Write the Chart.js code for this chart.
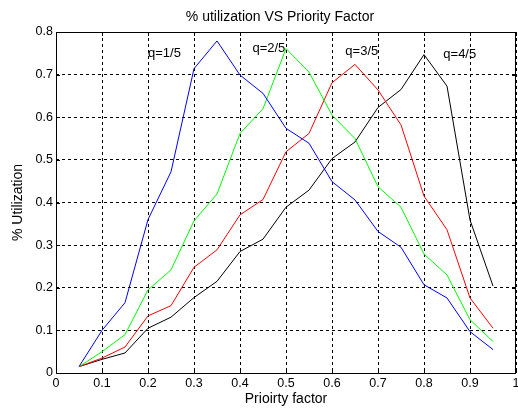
<!DOCTYPE html>
<html>
<head>
<meta charset="utf-8">
<script src="https://cdn.jsdelivr.net/npm/chart.js@4.4.1/dist/chart.umd.min.js"></script>
<style>
  html, body { margin: 0; padding: 0; background: #fff; }
  #wrap { width: 518px; height: 409px; }
</style>
</head>
<body>
<div id="wrap"><canvas id="chart" width="518" height="409"></canvas></div>
<script>
// priority factor values (x)
const priority = [0.05, 0.1, 0.15, 0.2, 0.25, 0.3, 0.35, 0.4, 0.45, 0.5,
                  0.55, 0.6, 0.65, 0.7, 0.75, 0.8, 0.85, 0.9, 0.95];

// % utilization for each q
const q1 = [0.015, 0.1, 0.165, 0.36, 0.472, 0.714, 0.779, 0.699, 0.656, 0.574,
            0.539, 0.449, 0.406, 0.332, 0.295, 0.207, 0.176, 0.097, 0.055];
const q2 = [0.015, 0.05, 0.09, 0.195, 0.242, 0.357, 0.42, 0.562, 0.62, 0.761,
            0.706, 0.605, 0.55, 0.437, 0.389, 0.279, 0.23, 0.125, 0.074];
const q3 = [0.015, 0.035, 0.061, 0.134, 0.158, 0.248, 0.289, 0.371, 0.407, 0.519,
            0.562, 0.681, 0.724, 0.664, 0.582, 0.415, 0.336, 0.176, 0.105];
const q4 = [0.015, 0.032, 0.047, 0.105, 0.131, 0.177, 0.215, 0.285, 0.314, 0.389,
            0.429, 0.503, 0.542, 0.623, 0.665, 0.747, 0.673, 0.359, 0.204];

const seriesNames = ["q=1/5", "q=2/5", "q=3/5", "q=4/5"];
const seriesColors = ["#0000ff", "#00ff00", "#ff0000", "#000000"];
// where each q label sits (data coords, left edge / middle)
const labelX = [0.2, 0.427, 0.629, 0.842];
const labelY = [0.75, 0.762, 0.755, 0.748];

const TITLE = "% utilization VS Priority Factor";
const FONT = "Arial, 'Liberation Sans', sans-serif";

const toPts = ys => ys.map((y, i) => ({ x: priority[i], y }));
const fmt = v => String(Number(v.toFixed(1)));

// title, box, inward ticks and q labels, matlab style
const boxPlugin = {
  id: "box",
  afterDraw(chart) {
    const { ctx, chartArea: a, scales } = chart;
    ctx.save();
    ctx.strokeStyle = "#000";
    ctx.lineWidth = 1;
    ctx.strokeRect(Math.round(a.left) + 0.5, Math.round(a.top) + 0.5,
                   Math.round(a.right - a.left) - 1, Math.round(a.bottom - a.top));
    ctx.beginPath();
    scales.x.ticks.forEach(t => {
      const px = Math.round(scales.x.getPixelForValue(t.value)) + 0.5;
      ctx.moveTo(px, a.bottom); ctx.lineTo(px, a.bottom - 4);
      ctx.moveTo(px, a.top); ctx.lineTo(px, a.top + 4);
    });
    scales.y.ticks.forEach(t => {
      const py = Math.round(scales.y.getPixelForValue(t.value)) + 0.5;
      ctx.moveTo(a.left, py); ctx.lineTo(a.left + 4, py);
      ctx.moveTo(a.right, py); ctx.lineTo(a.right - 4, py);
    });
    ctx.stroke();

    ctx.fillStyle = "#000";
    ctx.textBaseline = "middle";
    ctx.textAlign = "center";
    ctx.font = "14px " + FONT;
    ctx.fillText(TITLE, (a.left + a.right) / 2 - 6, 17);

    ctx.font = "13px " + FONT;
    ctx.textAlign = "left";
    seriesNames.forEach((n, i) => {
      ctx.fillText(n, scales.x.getPixelForValue(labelX[i]), scales.y.getPixelForValue(labelY[i]));
    });
    ctx.restore();
  }
};

new Chart(document.getElementById("chart"), {
  type: "line",
  data: {
    datasets: [q1, q2, q3, q4].map((d, i) => ({
      label: seriesNames[i],
      data: toPts(d),
      borderColor: seriesColors[i],
      backgroundColor: seriesColors[i],
      borderWidth: 1,
      pointRadius: 0,
      tension: 0,
      fill: false
    }))
  },
  options: {
    responsive: false,
    animation: false,
    layout: { padding: { top: 32, left: 0, right: 2, bottom: 0 } },
    plugins: {
      legend: { display: false },
      tooltip: { enabled: false },
      title: { display: false }
    },
    scales: {
      x: {
        type: "linear",
        min: 0, max: 1,
        ticks: { stepSize: 0.1, color: "#000", font: { family: FONT, size: 12.5 },
                 padding: 3, maxRotation: 0, autoSkip: false, callback: v => fmt(v) },
        grid: { color: "#000", lineWidth: 1, drawTicks: false },
        border: { display: false, dash: [3, 3] },
        title: { display: true, text: "Prioirty factor", color: "#000",
                 font: { family: FONT, size: 14 }, padding: { top: 0, bottom: 1.5 } },
        afterFit(s) { s.height = 36; s.paddingLeft = 0; s.paddingRight = 0; }
      },
      y: {
        min: 0, max: 0.8,
        ticks: { stepSize: 0.1, color: "#000", font: { family: FONT, size: 12.5 },
                 padding: 3, callback: v => fmt(v) },
        grid: { color: "#000", lineWidth: 1, drawTicks: false },
        border: { display: false, dash: [3, 3] },
        title: { display: true, text: "% Utilization", color: "#000",
                 font: { family: FONT, size: 14 }, padding: { top: 9.5, bottom: 0 } },
        afterFit(s) { s.width = 56; s.paddingTop = 0; s.paddingBottom = 0; }
      }
    }
  },
  plugins: [boxPlugin]
});
</script>
</body>
</html>
